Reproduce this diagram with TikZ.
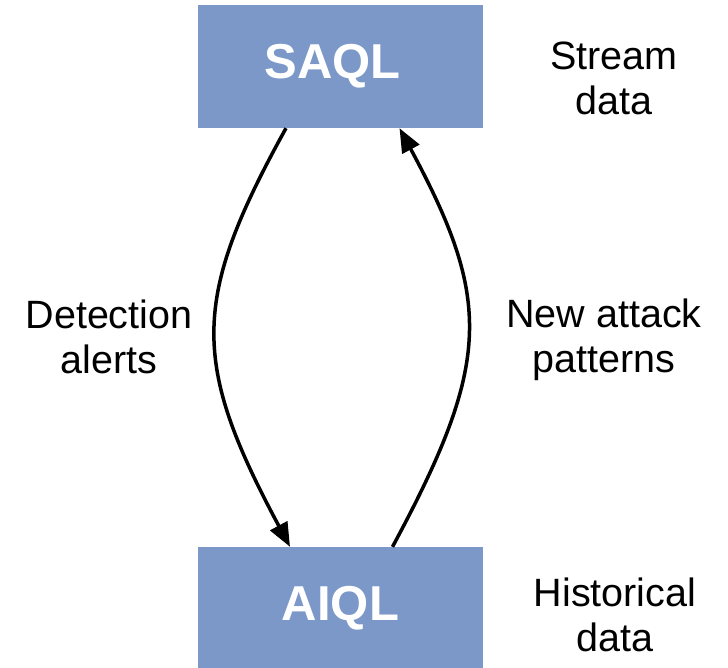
\documentclass[tikz,border=0pt]{standalone}
\usepackage{fontspec}
\setmainfont{Liberation Sans}
\usetikzlibrary{arrows.meta}
\definecolor{boxblue}{RGB}{124,152,200}
\begin{document}
\begin{tikzpicture}[x=1pt,y=-1pt,
  qbox/.style={rectangle, fill=boxblue, minimum width=285pt, minimum height=123pt, inner sep=0pt,
     text=white, font=\fontsize{49}{55}\selectfont\bfseries},
  lbl/.style={align=center, font=\fontsize{39.5}{45}\selectfont, text=black, inner sep=0pt},
  conn/.style={line width=3.5pt, -{Triangle[length=24pt,width=19pt]}}
]
\useasboundingbox (0,0) rectangle (728,667);
\node[qbox] (saql) at (340.5,66.5) {\kern-16pt SAQL};
\node[qbox] (aiql) at (340.5,608.5) {AIQL};
\node[lbl] (stream) at (614,78) {Stream\\data};
\node[lbl] (detect) at (109,337) {Detection\\alerts};
\node[lbl] (newatt) at (604,340) {New attack\\patterns};
\node[lbl] (hist) at (615,615) {Historical\\data};
\draw[conn] ([xshift=-54.5pt]saql.south) .. controls (191,300) and (191,362) .. ([xshift=-50.5pt]aiql.north);
\draw[conn] ([xshift=52pt]aiql.north) .. controls (492,362) and (492,300) .. ([xshift=59pt]saql.south);
\end{tikzpicture}
\end{document}
